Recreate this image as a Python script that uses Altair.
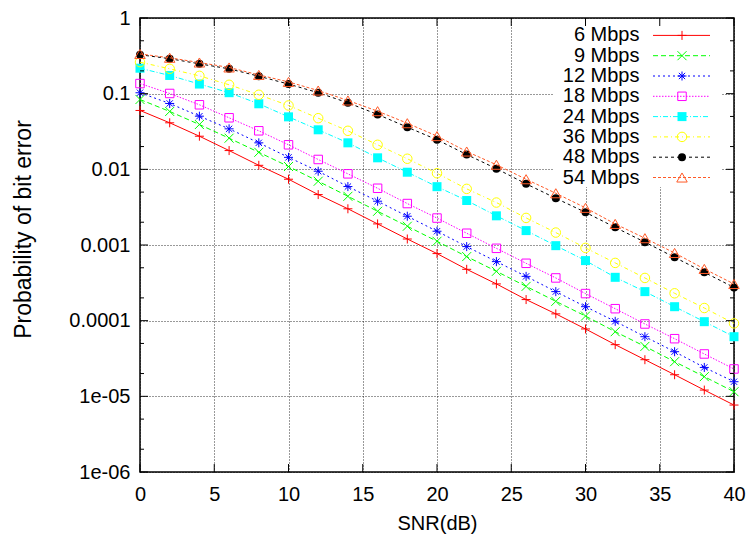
import json
import altair as alt
import pandas as pd

# ---------------- data ----------------
snr_db = list(range(0, 41, 2))

series_names = ["6 Mbps", "9 Mbps", "12 Mbps", "18 Mbps",
                "24 Mbps", "36 Mbps", "48 Mbps", "54 Mbps"]

ber_6 = [0.060, 0.0412, 0.0274, 0.0177, 0.0113, 0.0074, 0.00464, 0.00301, 0.0019, 0.0012,
         0.00077, 0.000477, 0.000306, 0.00019, 0.000123, 7.77e-5, 4.82e-5, 3.05e-5, 1.93e-5,
         1.21e-5, 7.67e-6]
ber_9 = [0.0838, 0.0582, 0.0391, 0.0258, 0.0168, 0.0109, 0.00696, 0.0044, 0.00279, 0.00177,
         0.00112, 0.000703, 0.000449, 0.000284, 0.00018, 0.000115, 7.15e-5, 4.57e-5, 2.87e-5,
         1.82e-5, 1.15e-5]
ber_12 = [0.1028, 0.0742, 0.0504, 0.0343, 0.0224, 0.0144, 0.00944, 0.00592, 0.00379, 0.0024,
          0.00152, 0.000953, 0.000603, 0.000385, 0.000242, 0.000153, 9.8e-5, 6.14e-5, 3.89e-5,
          2.41e-5, 1.56e-5]
ber_18 = [0.136, 0.1006, 0.0713, 0.048, 0.0323, 0.0211, 0.0135, 0.00872, 0.00562, 0.00353,
          0.00227, 0.00143, 0.000904, 0.000573, 0.000367, 0.000228, 0.000144, 9.04e-5, 5.78e-5,
          3.63e-5, 2.3e-5]
ber_24 = [0.217, 0.174, 0.134, 0.103, 0.0735, 0.0494, 0.0333, 0.0224, 0.0142, 0.00916,
          0.0059, 0.00387, 0.00243, 0.00155, 0.00098, 0.000622, 0.000374, 0.000242, 0.000153,
          9.7e-5, 6.14e-5]
ber_36 = [0.261, 0.213, 0.172, 0.131, 0.0967, 0.0698, 0.0474, 0.0323, 0.0211, 0.0138,
          0.00888, 0.00552, 0.00364, 0.00228, 0.00146, 0.000916, 0.00058, 0.000367, 0.00023,
          0.000147, 9.2e-5]
ber_48 = [0.327, 0.290, 0.248, 0.213, 0.170, 0.134, 0.103, 0.0758, 0.0531, 0.0361,
          0.0246, 0.0157, 0.0102, 0.00643, 0.00415, 0.0027, 0.00171, 0.00109, 0.000687,
          0.000435, 0.000275]
ber_54 = [0.335, 0.298, 0.258, 0.222, 0.177, 0.143, 0.110, 0.0813, 0.0587, 0.0407,
          0.0275, 0.0172, 0.0115, 0.0074, 0.00483, 0.0031, 0.0019, 0.00123, 0.000785,
          0.000483, 0.000305]

all_ber = [ber_6, ber_9, ber_12, ber_18, ber_24, ber_36, ber_48, ber_54]

x_tick_values = [0, 5, 10, 15, 20, 25, 30, 35, 40]
y_tick_values = [1e-6, 1e-5, 1e-4, 1e-3, 1e-2, 1e-1, 1]
y_tick_labels = ["1e-06", "1e-05", "0.0001", "0.001", "0.01", "0.1", "1"]
y_minor_values = [m * d for d in [1e-6, 1e-5, 1e-4, 1e-3, 1e-2, 1e-1] for m in (2, 5)]

# ---------------- styles ----------------
FONT = "Liberation Sans"
FS = 20
W, H = 594, 454

colors = ["#ff0000", "#00ff00", "#0000ff", "#ff00ff", "#00ffff", "#ffff00", "#000000", "#ff5a28"]
dashes = [None, [5, 3], [2, 3], [1.5, 1.5], [5, 2, 1, 2], [4, 3, 1, 3], [3, 3], [3, 2]]
PLUS = "M-1,0L1,0M0,-1L0,1"
CROSS = "M-1,-1L1,1M-1,1L1,-1"
STAR = "M-1,0L1,0M0,-1L0,1M-0.7,-0.7L0.7,0.7M-0.7,0.7L0.7,-0.7"
shapes = [PLUS, CROSS, STAR, "square", "square", "circle", "circle", "triangle-up"]
filled = [False, False, False, False, True, False, True, False]
sizes = [81, 81, 81, 72, 81, 90, 64, 110]

label_expr = json.dumps(y_tick_labels) + "[round(log(datum.value)/LN10)+6]"

x_axis = alt.Axis(values=x_tick_values, title="SNR(dB)", grid=True, gridColor="black",
                  gridDash=[1, 2], gridOpacity=0.8, gridWidth=1, ticks=False, domain=False,
                  labelFont=FONT, labelFontSize=FS, labelColor="black", labelPadding=12,
                  labelFlush=False, labelOverlap=False,
                  titleFont=FONT, titleFontSize=FS, titleFontWeight="normal", titleColor="black",
                  titleY=51, titleBaseline="middle")
y_axis = alt.Axis(values=y_tick_values, labelExpr=label_expr, title="Probability of bit error",
                  grid=True, gridColor="black", gridDash=[1, 2], gridOpacity=0.8, gridWidth=1,
                  ticks=False, domain=False, labelFont=FONT, labelFontSize=FS, labelColor="black",
                  labelPadding=10, labelFlush=False, labelOverlap=False,
                  titleFont=FONT, titleFontSize=23, titleFontWeight="normal", titleColor="black",
                  titleX=-117, titleY=211, titleAngle=270, titleBaseline="middle", titleAlign="center")

x_scale = alt.Scale(domain=[0, 40], nice=False, zero=False)
y_scale = alt.Scale(type="log", domain=[1e-6, 1], nice=False)
X = alt.X("snr:Q", scale=x_scale, axis=x_axis)
Y = alt.Y("ber:Q", scale=y_scale, axis=y_axis)

one = pd.DataFrame({"k": [0]})
layers = []

# white box behind the key (hides grid there)
layers.append(alt.Chart(one).mark_rect(color="white").encode(
    x=alt.value(414), x2=alt.value(582), y=alt.value(1), y2=alt.value(169)))

# data series
for i, name in enumerate(series_names):
    df = pd.DataFrame({"snr": snr_db, "ber": all_ber[i]})
    line_kw = dict(color=colors[i], strokeWidth=1)
    if dashes[i] is not None:
        line_kw["strokeDash"] = dashes[i]
    layers.append(alt.Chart(df).mark_line(**line_kw).encode(x=X, y=Y))
    layers.append(alt.Chart(df).mark_point(shape=shapes[i], filled=filled[i], size=sizes[i],
                                           color=colors[i], strokeWidth=1, opacity=1)
                  .encode(x=X, y=Y))

# inward ticks on all four sides
xt = pd.DataFrame({"snr": x_tick_values})
yt = pd.DataFrame({"ber": y_tick_values})
ym = pd.DataFrame({"ber": y_minor_values})
tick = dict(color="black", strokeWidth=1)
layers.append(alt.Chart(xt).mark_rule(**tick).encode(x=X, y=alt.value(H), y2=alt.value(H - 8)))
layers.append(alt.Chart(xt).mark_rule(**tick).encode(x=X, y=alt.value(0), y2=alt.value(8)))
layers.append(alt.Chart(yt).mark_rule(**tick).encode(y=Y, x=alt.value(0), x2=alt.value(8)))
layers.append(alt.Chart(yt).mark_rule(**tick).encode(y=Y, x=alt.value(W), x2=alt.value(W - 8)))
layers.append(alt.Chart(ym).mark_rule(**tick).encode(y=Y, x=alt.value(0), x2=alt.value(4)))
layers.append(alt.Chart(ym).mark_rule(**tick).encode(y=Y, x=alt.value(W), x2=alt.value(W - 4)))

# key
for i, name in enumerate(series_names):
    ky = 17.4 + 20.3 * i
    layers.append(alt.Chart(one).mark_text(align="right", baseline="middle", font=FONT,
                                           fontSize=FS, color="black", text=name)
                  .encode(x=alt.value(499.5), y=alt.value(ky)))
    rule_kw = dict(color=colors[i], strokeWidth=1)
    if dashes[i] is not None:
        rule_kw["strokeDash"] = dashes[i]
    layers.append(alt.Chart(one).mark_rule(**rule_kw)
                  .encode(x=alt.value(513), x2=alt.value(570), y=alt.value(ky)))
    layers.append(alt.Chart(one).mark_point(shape=shapes[i], filled=filled[i], size=sizes[i],
                                            color=colors[i], strokeWidth=1, opacity=1)
                  .encode(x=alt.value(542), y=alt.value(ky)))

chart = alt.layer(*layers).properties(
    width=W, height=H,
    padding={"left": 140, "top": 18, "right": 18, "bottom": 64},
    autosize=alt.AutoSizeParams(type="none"),
    background="white",
).configure_view(stroke="black", strokeWidth=1.5)

chart.save("out.html", embed_options={"renderer": "svg", "actions": False})
